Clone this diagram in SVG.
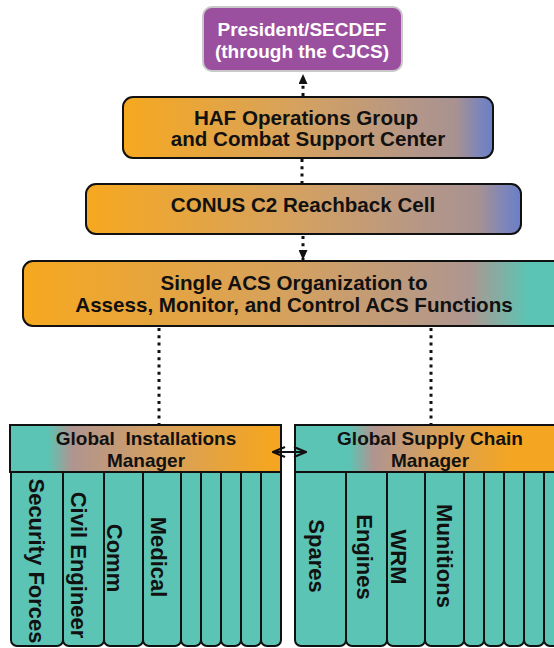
<svg xmlns="http://www.w3.org/2000/svg" width="554" height="648" viewBox="0 0 554 648">
  <style>
    .lbl { font-family: "Liberation Sans", Arial, Helvetica, sans-serif; font-weight: bold; fill: #111; text-anchor: middle; }
    .top { font-size: 19px; fill: #fff; }
    .big { font-size: 20.6px; }
    .hdr { font-size: 19px; }
    .col { font-size: 22px; }
    .box { stroke: #111; stroke-width: 2; }
    .colbox { fill: #5BC4B5; stroke: #111; stroke-width: 2; }
    .dot { fill: none; stroke: #111; stroke-width: 3; stroke-dasharray: 3 4.3; }
    .link { fill: none; stroke: #111; stroke-width: 2; }
  </style>
  <defs>
    <linearGradient id="gradBlue" x1="0" y1="0" x2="1" y2="0">
      <stop offset="0" stop-color="#F6A81F"/>
      <stop offset="0.45" stop-color="#D7A25C"/>
      <stop offset="0.8" stop-color="#B3968A"/>
      <stop offset="0.9" stop-color="#A89290"/>
      <stop offset="0.96" stop-color="#8086B8"/>
      <stop offset="1" stop-color="#6A7FC6"/>
    </linearGradient>
    <linearGradient id="gradTeal" gradientUnits="userSpaceOnUse" x1="23" y1="0" x2="554" y2="0">
      <stop offset="0" stop-color="#F6A81F"/>
      <stop offset="0.5" stop-color="#D5A15E"/>
      <stop offset="0.84" stop-color="#AE9690"/>
      <stop offset="0.95" stop-color="#5CC4B4"/>
      <stop offset="1" stop-color="#5CC4B4"/>
    </linearGradient>
    <linearGradient id="gradGim" gradientUnits="userSpaceOnUse" x1="10" y1="0" x2="281" y2="0">
      <stop offset="0" stop-color="#5CC4B4"/>
      <stop offset="0.14" stop-color="#5CC4B4"/>
      <stop offset="0.23" stop-color="#B09490"/>
      <stop offset="0.55" stop-color="#D5A060"/>
      <stop offset="0.95" stop-color="#F4A521"/>
      <stop offset="1" stop-color="#F4A521"/>
    </linearGradient>
    <linearGradient id="gradGscm" gradientUnits="userSpaceOnUse" x1="295" y1="0" x2="565" y2="0">
      <stop offset="0" stop-color="#5CC4B4"/>
      <stop offset="0.2" stop-color="#5CC4B4"/>
      <stop offset="0.29" stop-color="#B09490"/>
      <stop offset="0.5" stop-color="#D5A060"/>
      <stop offset="0.8" stop-color="#F4A521"/>
      <stop offset="1" stop-color="#F4A521"/>
    </linearGradient>
    <marker id="tri" viewBox="0 0 10 9" refX="10" refY="4.5" markerWidth="10" markerHeight="9" markerUnits="userSpaceOnUse" orient="auto">
      <path d="M0,0 L10,4.5 L0,9 Z" fill="#111"/>
    </marker>
    <marker id="chev" viewBox="0 0 14 12" refX="13" refY="6" markerWidth="14" markerHeight="12" markerUnits="userSpaceOnUse" orient="auto-start-reverse">
      <path d="M1,1 L13,6 L1,11" fill="none" stroke="#111" stroke-width="2"/>
    </marker>
  </defs>

  <!-- connectors -->
  <g id="connectors">
    <line class="dot" x1="303" y1="96" x2="303" y2="74" marker-end="url(#tri)"/>
    <line class="dot" x1="302" y1="159" x2="302" y2="183"/>
    <line class="dot" x1="303" y1="236" x2="303" y2="260" marker-end="url(#tri)"/>
    <line class="dot" x1="159" y1="328" x2="159" y2="424"/>
    <line class="dot" x1="431" y1="328" x2="431" y2="424"/>
  </g>

  <g id="president">
    <rect x="203" y="7" width="199" height="64" rx="9" fill="#9B509F" stroke="#C9C9C9" stroke-width="2"/>
    <text class="lbl top" x="302" y="36">President/SECDEF</text>
    <text class="lbl top" x="302" y="58">(through the CJCS)</text>
  </g>

  <g id="haf">
    <rect class="box" x="123" y="97" width="370" height="61" rx="10" fill="url(#gradBlue)"/>
    <text class="lbl big" x="306" y="125">HAF Operations Group</text>
    <text class="lbl big" x="308" y="146">and Combat Support Center</text>
  </g>

  <g id="conus">
    <rect class="box" x="86" y="184" width="435" height="50" rx="10" fill="url(#gradBlue)"/>
    <text class="lbl big" x="303" y="212">CONUS C2 Reachback Cell</text>
  </g>

  <g id="single-acs">
    <rect class="box" x="23" y="261" width="570" height="65" rx="10" fill="url(#gradTeal)"/>
    <text class="lbl big" x="294" y="290">Single ACS Organization to</text>
    <text class="lbl big" x="294" y="312">Assess, Monitor, and Control ACS Functions</text>
  </g>

  <g id="installations">
    <rect class="colbox" x="261" y="460" width="20" height="186" rx="6"/>
    <rect class="colbox" x="241" y="460" width="20" height="186" rx="6"/>
    <rect class="colbox" x="221" y="460" width="20" height="186" rx="6"/>
    <rect class="colbox" x="201" y="460" width="20" height="186" rx="6"/>
    <rect class="colbox" x="181" y="460" width="20" height="186" rx="6"/>
    <rect class="colbox" x="143" y="460" width="38" height="186" rx="6"/>
    <rect class="colbox" x="104" y="460" width="39" height="186" rx="6"/>
    <rect class="colbox" x="63" y="460" width="41" height="186" rx="6"/>
    <rect class="colbox" x="11" y="460" width="52" height="186" rx="6"/>
    <rect class="box" x="10" y="425" width="271" height="47" fill="url(#gradGim)"/>
    <text class="lbl hdr" x="146" y="445" xml:space="preserve">Global  Installations</text>
    <text class="lbl hdr" x="146" y="467">Manager</text>
    <text class="lbl col" x="29" y="561" transform="rotate(90 29 561)">Security Forces</text>
    <text class="lbl col" x="71" y="565" transform="rotate(90 71 565)">Civil Engineer</text>
    <text class="lbl col" x="107" y="558" transform="rotate(90 107 558)">Comm</text>
    <text class="lbl col" x="151" y="557" transform="rotate(90 151 557)">Medical</text>
  </g>

  <g id="supply-chain">
    <rect class="colbox" x="544" y="460" width="20" height="186" rx="6"/>
    <rect class="colbox" x="524" y="460" width="20" height="186" rx="6"/>
    <rect class="colbox" x="504" y="460" width="20" height="186" rx="6"/>
    <rect class="colbox" x="484" y="460" width="20" height="186" rx="6"/>
    <rect class="colbox" x="464" y="460" width="20" height="186" rx="6"/>
    <rect class="colbox" x="425" y="460" width="39" height="186" rx="6"/>
    <rect class="colbox" x="387" y="460" width="38" height="186" rx="6"/>
    <rect class="colbox" x="346" y="460" width="41" height="186" rx="6"/>
    <rect class="colbox" x="295" y="460" width="51" height="186" rx="6"/>
    <rect class="box" x="295" y="425" width="275" height="47" fill="url(#gradGscm)"/>
    <text class="lbl hdr" x="430" y="445">Global Supply Chain</text>
    <text class="lbl hdr" x="430" y="467">Manager</text>
    <text class="lbl col" x="309" y="556" transform="rotate(90 309 556)">Spares</text>
    <text class="lbl col" x="357" y="557" transform="rotate(90 357 557)">Engines</text>
    <text class="lbl col" x="391" y="557" transform="rotate(90 391 557)">WRM</text>
    <text class="lbl col" x="437" y="556" transform="rotate(90 437 556)">Munitions</text>
  </g>

  <g id="peer-link">
    <line class="link" x1="273" y1="452" x2="306" y2="452" marker-start="url(#chev)" marker-end="url(#chev)"/>
  </g>
</svg>
